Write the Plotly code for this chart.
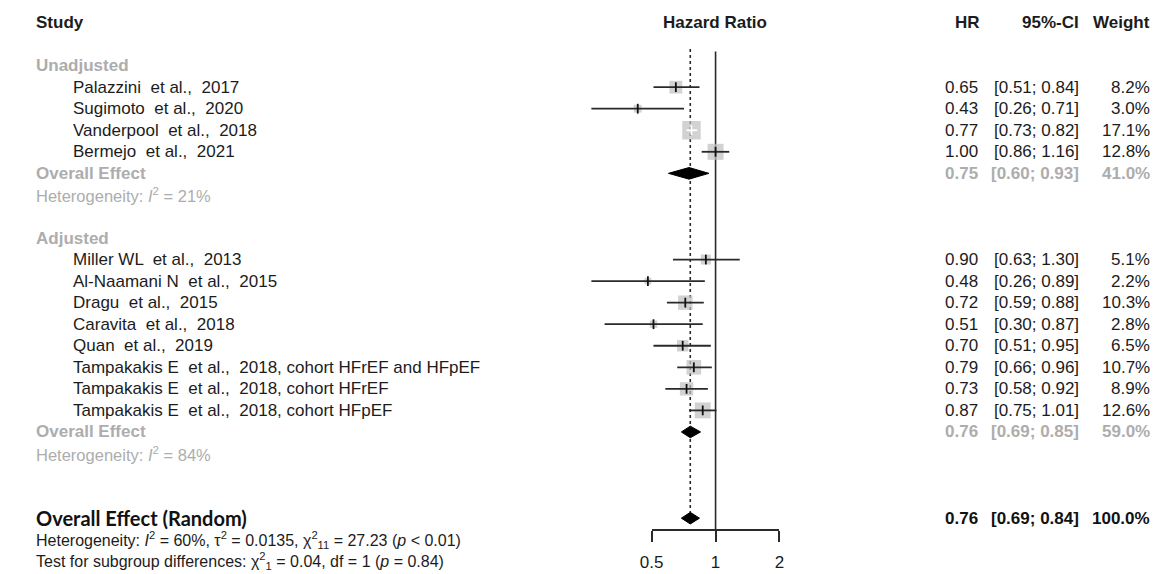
import math
import plotly.graph_objects as go

W, H = 1164, 574

# ---------------- data ----------------
unadj_names = ["Palazzini  et al.,  2017", "Sugimoto  et al.,  2020",
               "Vanderpool  et al.,  2018", "Bermejo  et al.,  2021"]
unadj_hr = [0.65, 0.43, 0.77, 1.00]
unadj_lo = [0.51, 0.26, 0.73, 0.86]
unadj_hi = [0.84, 0.71, 0.82, 1.16]
unadj_w = [8.2, 3.0, 17.1, 12.8]
unadj_sum = [0.75, 0.60, 0.93, 41.0]
unadj_i2 = "21%"

adj_names = ["Miller WL  et al.,  2013", "Al-Naamani N  et al.,  2015",
             "Dragu  et al.,  2015", "Caravita  et al.,  2018", "Quan  et al.,  2019",
             "Tampakakis E  et al.,  2018, cohort HFrEF and HFpEF",
             "Tampakakis E  et al.,  2018, cohort HFrEF",
             "Tampakakis E  et al.,  2018, cohort HFpEF"]
adj_hr = [0.90, 0.48, 0.72, 0.51, 0.70, 0.79, 0.73, 0.87]
adj_lo = [0.63, 0.26, 0.59, 0.30, 0.51, 0.66, 0.58, 0.75]
adj_hi = [1.30, 0.89, 0.88, 0.87, 0.95, 0.96, 0.92, 1.01]
adj_w = [5.1, 2.2, 10.3, 2.8, 6.5, 10.7, 8.9, 12.6]
adj_sum = [0.76, 0.69, 0.85, 59.0]
adj_i2 = "84%"

overall = [0.76, 0.69, 0.84, 100.0]
overall_het = ("Heterogeneity: <i>I</i><sup>2</sup> = 60%, \u03c4<sup>2</sup> = 0.0135, "
               "\u03c7<sup>2</sup><sub>11</sub> = 27.23 (<i>p</i> &lt; 0.01)")
subgroup_test = ("Test for subgroup differences: \u03c7<sup>2</sup><sub>1</sub> = 0.04, "
                 "df = 1 (<i>p</i> = 0.84)")

groups = [("Unadjusted", unadj_names, unadj_hr, unadj_lo, unadj_hi, unadj_w, unadj_sum, unadj_i2),
          ("Adjusted", adj_names, adj_hr, adj_lo, adj_hi, adj_w, adj_sum, adj_i2)]

axis_ticks = [0.5, 1, 2]
axis_tick_labels = ["0.5", "1", "2"]

# ---------------- geometry ----------------
Y0, S = 22.5, 21.55          # pixel of row 0, row spacing
PX1, PPD = 714.0, 64.85      # pixel of HR=1, pixels per doubling
L2 = math.log10(2)
xr = [L2 * (0 - PX1) / PPD, L2 * (W - PX1) / PPD]
yr = [(H - Y0) / S, -Y0 / S]
AXIS_ROW = (530 - Y0) / S

BLACK = "#1c1c1c"
GRAY = "#adadad"
SQ = "#bfbfbf"
FONT = "Liberation Sans, Arial, sans-serif"

annotations = []


def txt(xpx, row, text, anchor="left", size=17, color=BLACK, bold=False, family=FONT):
    if bold:
        text = "<b>" + text + "</b>"
    annotations.append(dict(x=xpx / W, xref="paper", y=row, yref="y", text=text,
                            xanchor=anchor, yanchor="middle", showarrow=False,
                            font=dict(size=size, color=color, family=family)))


def sp(s):
    return s.replace("  ", " \u00a0")


def fmt_ci(lo, hi):
    return f"[{lo:.2f}; {hi:.2f}]"


# headers
txt(22, 0, "Study", bold=True)
txt(713, 0, "Hazard Ratio", anchor="center", bold=True)
txt(984, 0, "HR", anchor="right", bold=True)
txt(1085, 0, "95%-CI", anchor="right", bold=True)
txt(1157, 0, "Weight", anchor="right", bold=True)

st_x, st_y, st_w, st_lo, st_hi = [], [], [], [], []
diamonds = []
row = 2
for label, names, hr, lo, hi, w, summ, i2 in groups:
    txt(22, row, label, color=GRAY, bold=True)
    row += 1
    for n, h, l, u, ww in zip(names, hr, lo, hi, w):
        txt(60, row, sp(n))
        txt(982, row, f"{h:.2f}", anchor="right")
        txt(1085, row, fmt_ci(l, u), anchor="right")
        txt(1157, row, f"{ww:.1f}%", anchor="right")
        st_x.append(h); st_y.append(row); st_w.append(ww); st_lo.append(l); st_hi.append(u)
        row += 1
    txt(22, row, "Overall Effect", color=GRAY, bold=True)
    txt(982, row, f"{summ[0]:.2f}", anchor="right", color=GRAY, bold=True)
    txt(1085, row, fmt_ci(summ[1], summ[2]), anchor="right", color=GRAY, bold=True)
    txt(1157, row, f"{summ[3]:.1f}%", anchor="right", color=GRAY, bold=True)
    diamonds.append((summ[0], summ[1], summ[2], row))
    row += 1
    txt(22, row, "Heterogeneity: <i>I</i><sup>2</sup> = " + i2, size=16.5, color=GRAY)
    row += 2

row += 1
txt(22, row, "Overall Effect (Random)", size=20, bold=True,
    family="Lato, Liberation Sans, sans-serif", color="#111111")
txt(982, row, f"{overall[0]:.2f}", anchor="right", bold=True, color="#111111")
txt(1085, row, fmt_ci(overall[1], overall[2]), anchor="right", bold=True, color="#111111")
txt(1157, row, f"{overall[3]:.1f}%", anchor="right", bold=True, color="#111111")
diamonds.append((overall[0], overall[1], overall[2], row))
overall_row = row
txt(22, row + 1, overall_het, size=16)
txt(22, row + 2, subgroup_test, size=16)

# ---------------- marks ----------------
fig = go.Figure()

K = 18.5 / math.sqrt(17.1)
sizes = [K * math.sqrt(v) for v in st_w]
fig.add_trace(go.Scatter(x=st_x, y=st_y, mode="markers",
                         marker=dict(symbol="square", size=sizes, color=SQ, line=dict(width=0)),
                         hoverinfo="skip"))

ci_out_x, ci_out_y, ci_in_x, ci_in_y = [], [], [], []
tick_out_x, tick_out_y, tick_in_x, tick_in_y = [], [], [], []
for h, r, l, u, s in zip(st_x, st_y, st_lo, st_hi, sizes):
    inside = (math.log2(u) - math.log2(l)) * PPD < s
    if inside:
        ci_in_x += [l, u, None]; ci_in_y += [r, r, None]
        tick_in_x.append(h); tick_in_y.append(r)
    else:
        ci_out_x += [l, u, None]; ci_out_y += [r, r, None]
        tick_out_x.append(h); tick_out_y.append(r)

fig.add_trace(go.Scatter(x=ci_out_x, y=ci_out_y, mode="lines",
                         line=dict(color="#2a2a2a", width=1.8), hoverinfo="skip"))
fig.add_trace(go.Scatter(x=ci_in_x, y=ci_in_y, mode="lines",
                         line=dict(color="white", width=1.8), hoverinfo="skip"))
fig.add_trace(go.Scatter(x=tick_out_x, y=tick_out_y, mode="markers",
                         marker=dict(symbol="line-ns", size=7, line=dict(color="#111", width=1.8)),
                         hoverinfo="skip"))
fig.add_trace(go.Scatter(x=tick_in_x, y=tick_in_y, mode="markers",
                         marker=dict(symbol="line-ns", size=7, line=dict(color="white", width=1.8)),
                         hoverinfo="skip"))

DH = 0.27
for est, lo, hi, r in diamonds:
    fig.add_trace(go.Scatter(x=[lo, est, hi, est, lo], y=[r, r - DH, r, r + DH, r],
                             mode="lines", fill="toself", fillcolor="black",
                             line=dict(color="black", width=1), hoverinfo="skip"))

# reference lines
fig.add_shape(type="line", xref="x", yref="y", x0=1, x1=1, y0=(51.5 - Y0) / S, y1=AXIS_ROW,
              line=dict(color="#2a2a2a", width=1.6), layer="below")
fig.add_shape(type="line", xref="x", yref="y", x0=overall[0], x1=overall[0],
              y0=(49 - Y0) / S, y1=overall_row - DH,
              line=dict(color="#2a2a2a", width=1.6, dash="dot"), layer="below")

# dummy trace to bring the visible axis into existence
fig.add_trace(go.Scatter(x=[1], y=[overall_row], xaxis="x2", yaxis="y", mode="markers",
                         marker=dict(opacity=0), hoverinfo="skip"))

fig.update_layout(
    width=W, height=H, margin=dict(l=0, r=0, t=0, b=0),
    paper_bgcolor="white", plot_bgcolor="rgba(0,0,0,0)", showlegend=False,
    xaxis=dict(type="log", range=xr, visible=False, domain=[0, 1], fixedrange=True),
    xaxis2=dict(type="log", range=[math.log10(0.5), math.log10(2)],
                domain=[(PX1 - PPD) / W, (PX1 + PPD) / W], anchor="free",
                position=1 - 530 / H, tickvals=axis_ticks, ticktext=axis_tick_labels,
                ticks="outside", ticklen=11, tickwidth=1.6, tickcolor="#2a2a2a",
                showline=True, linewidth=1.6, linecolor="#2a2a2a", showgrid=False,
                zeroline=False, ticklabelstandoff=6, fixedrange=True,
                tickfont=dict(size=17, color=BLACK, family=FONT)),
    yaxis=dict(range=yr, visible=False, domain=[0, 1], fixedrange=True),
    annotations=annotations,
)

fig.write_html("out.html", config={"displayModeBar": False},
               post_script="document.body.style.margin='0px';")
